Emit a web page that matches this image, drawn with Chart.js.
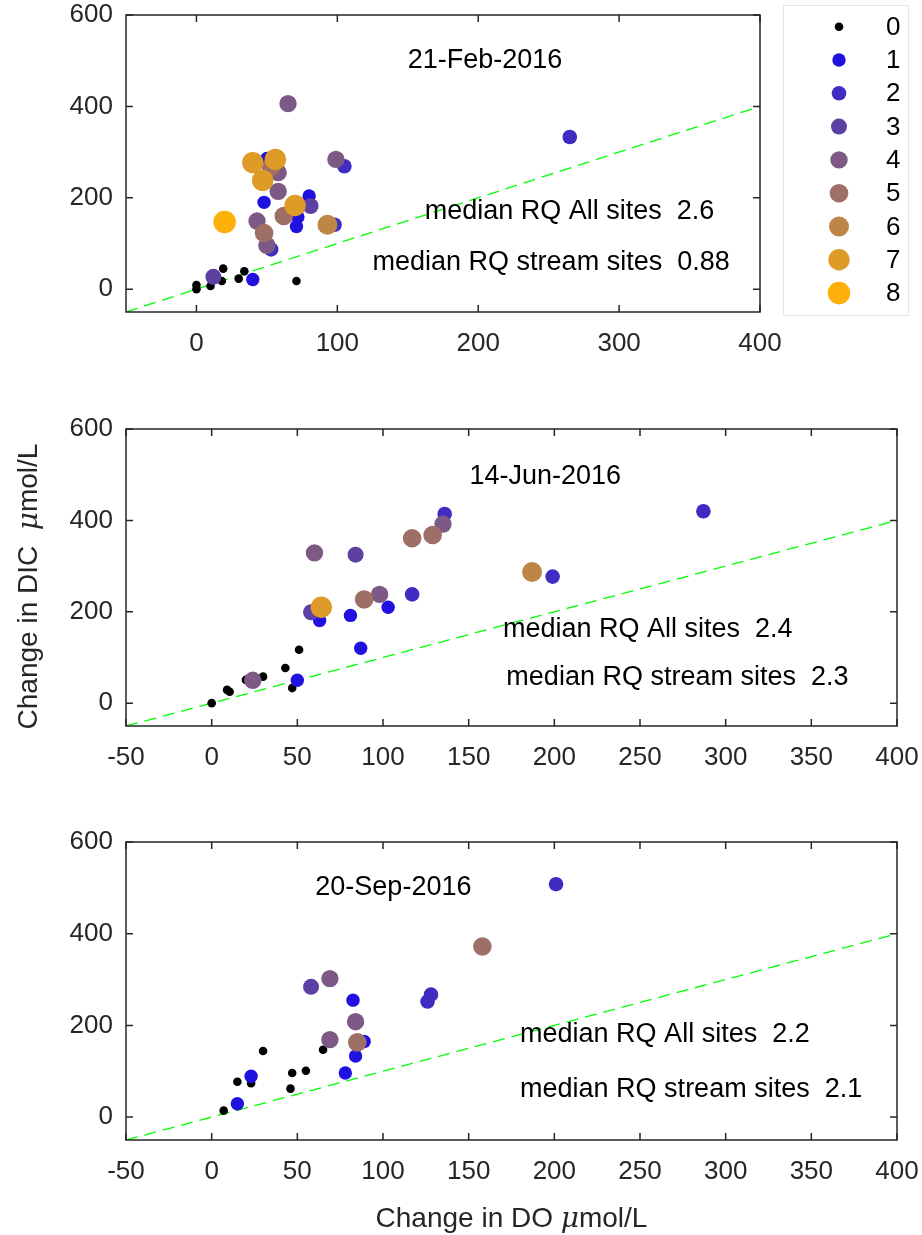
<!DOCTYPE html>
<html>
<head>
<meta charset="utf-8">
<script src="https://cdn.jsdelivr.net/npm/chart.js@4.4.1/dist/chart.umd.min.js"></script>
<style>
  body { margin: 0; background: #fff; }
  #wrap { position: relative; width: 922px; height: 1235px; }
  .panel { position: absolute; left: 0; width: 922px; }
</style>
</head>
<body>
<div id="wrap">
  <div class="panel" style="top:0;height:370px"><canvas id="feb"></canvas></div>
  <div class="panel" style="top:370px;height:410px"><canvas id="jun"></canvas></div>
  <div class="panel" style="top:780px;height:455px"><canvas id="sep"></canvas></div>
</div>
<script>
// site classes 0..8, colour ramps from black/blue to orange
const sites = [0, 1, 2, 3, 4, 5, 6, 7, 8];
const siteColors = ['#000000', '#2011e0', '#3f2cc2', '#5d40a3', '#7d5a85', '#9d6f66', '#bd8647', '#de9b28', '#fdb00a'];
const siteRadius = [4.3, 6.7, 7.3, 8, 8.7, 9.3, 10, 10.7, 11.3];

const dates = ['21-Feb-2016', '14-Jun-2016', '20-Sep-2016'];
const medianAll = [2.6, 2.4, 2.2];
const medianStream = [0.88, 2.3, 2.1];

// change in DO / DIC (umol/L) and site class, one entry per site
const febDO   = [0, 0, 10, 18, 19, 30, 34, 71,  40, 48, 50, 80, 72, 71,  265, 105, 98, 53,  12, 81,  65, 99, 58, 58, 43, 50,  53, 62, 48,  93,  40, 56, 47, 70,  20];
const febDIC  = [0, 9, 7, 18, 45, 23, 39, 18,  21, 190, 286, 204, 158, 137,  333, 269, 141, 87,  27, 182,  406, 284, 255, 214, 149, 96,  267, 160, 123,  141,  277, 284, 238, 183,  147];
const febSite = [0, 0, 0, 0, 0, 0, 0, 0,  1, 1, 1, 1, 1, 1,  2, 2, 2, 2,  3, 3,  4, 4, 4, 4, 4, 4,  5, 5, 5,  6,  7, 7, 7, 7,  8];

const junDO   = [0, 9, 10.5, 20, 30, 43, 47, 51,  50, 87, 63, 81, 103,  136, 117, 287, 199,  58, 84,  60, 135, 98, 24,  117, 129, 89,  187,  64];
const junDIC  = [0, 29, 25, 51, 58, 77, 33, 117,  50, 120, 181, 192, 210,  414, 238, 420, 277,  199, 325,  329, 392, 238, 50,  361, 368, 227,  287,  210];
const junSite = [0, 0, 0, 0, 0, 0, 0, 0,  1, 1, 1, 1, 1,  2, 2, 2, 2,  3, 3,  4, 4, 4, 4,  5, 5, 5,  6,  7];

const sepDO   = [7, 15, 23, 30, 47, 46, 55, 65,  15, 23, 78, 84, 82.5, 89,  126, 128, 201,  58,  69, 84, 69,  85, 158];
const sepDIC  = [14, 77, 74, 144, 96, 62, 101, 147,  29, 89, 96, 133, 255, 165,  252, 267, 508,  284,  302, 208, 169,  163, 372];
const sepSite = [0, 0, 0, 0, 0, 0, 0, 0,  1, 1, 1, 1, 1, 1,  2, 2, 2,  3,  4, 4, 4,  5, 5];

const xTicksFeb = [0, 100, 200, 300, 400];
const xTicks = [-50, 0, 50, 100, 150, 200, 250, 300, 350, 400];
const yTicks = [0, 200, 400, 600];
const oneToOne = [-50, 400];

const FONT = "'Liberation Sans', Arial, Helvetica, sans-serif";
const AXIS = '#262626';
Chart.defaults.font.family = FONT;

function buildDatasets(xs, ys, cls) {
  const sets = [{
    type: 'line',
    data: oneToOne.map(v => ({ x: v, y: v })),
    borderColor: '#00ff00',
    borderWidth: 1.3,
    borderDash: [12, 7],
    pointRadius: 0,
    showLine: true,
    order: 20
  }];
  sites.forEach(k => {
    const pts = [];
    xs.forEach((x, i) => { if (cls[i] === k) pts.push({ x: x, y: ys[i] }); });
    sets.push({
      label: String(k),
      data: pts,
      backgroundColor: siteColors[k],
      pointBackgroundColor: siteColors[k],
      pointRadius: siteRadius[k],
      pointHoverRadius: siteRadius[k],
      pointBorderWidth: 0,
      borderWidth: 0,
      order: 10 - k
    });
  });
  return sets;
}

// axes box with inward ticks on all four sides
const framePlugin = {
  id: 'frame',
  afterDraw(chart) {
    const { ctx, chartArea: a, scales } = chart;
    ctx.save();
    ctx.strokeStyle = AXIS;
    ctx.lineWidth = 1.5;
    ctx.strokeRect(a.left, a.top, a.right - a.left, a.bottom - a.top);
    const tl = 7;
    ctx.beginPath();
    scales.x.ticks.forEach(t => {
      const p = scales.x.getPixelForValue(t.value);
      ctx.moveTo(p, a.bottom); ctx.lineTo(p, a.bottom - tl);
      ctx.moveTo(p, a.top); ctx.lineTo(p, a.top + tl);
    });
    scales.y.ticks.forEach(t => {
      const p = scales.y.getPixelForValue(t.value);
      ctx.moveTo(a.left, p); ctx.lineTo(a.left + tl, p);
      ctx.moveTo(a.right, p); ctx.lineTo(a.right - tl, p);
    });
    ctx.stroke();

    // in-axes text
    const o = chart.options.plugins.frame;
    ctx.fillStyle = '#000';
    ctx.font = '27px ' + FONT;
    ctx.textBaseline = 'middle';
    ctx.textAlign = 'left';
    (o.notes || []).forEach(n => {
      ctx.fillText(n.text, scales.x.getPixelForValue(n.x), scales.y.getPixelForValue(n.y));
    });

    // axis titles with an italic mu
    if (o.xTitle) drawTitle(ctx, o.xTitle, (a.left + a.right) / 2, o.xTitleY, false);
    if (o.yTitle) drawTitle(ctx, o.yTitle, o.yTitleX, (a.top + a.bottom) / 2 + 9, true);

    if (o.legend) drawLegend(ctx, o.legend);
    ctx.restore();
  }
};

function drawTitle(ctx, parts, cx, cy, vertical) {
  const fonts = parts.map(p => p.italic ? 'italic 28px "DejaVu Serif", serif' : '28px ' + FONT);
  let w = 0;
  const widths = parts.map((p, i) => { ctx.font = fonts[i]; const m = ctx.measureText(p.t).width; w += m; return m; });
  ctx.save();
  ctx.translate(cx, cy);
  if (vertical) ctx.rotate(-Math.PI / 2);
  ctx.fillStyle = AXIS;
  ctx.textBaseline = 'alphabetic';
  ctx.textAlign = 'left';
  let x = -w / 2;
  parts.forEach((p, i) => {
    ctx.font = fonts[i];
    ctx.fillText(p.t, x, 10);
    x += widths[i];
  });
  ctx.restore();
}

function drawLegend(ctx, L) {
  ctx.strokeStyle = '#e6e6e6';
  ctx.lineWidth = 1;
  ctx.strokeRect(L.left, L.top, L.width, L.height);
  ctx.font = '26px ' + FONT;
  ctx.textBaseline = 'middle';
  ctx.textAlign = 'left';
  sites.forEach(k => {
    const y = L.firstY + L.step * k;
    ctx.fillStyle = siteColors[k];
    ctx.beginPath();
    ctx.arc(L.markerX, y, siteRadius[k], 0, Math.PI * 2);
    ctx.fill();
    ctx.fillStyle = '#000';
    ctx.fillText(String(k), L.textX, y + 1);
  });
}

function makePanel(id, xs, ys, cls, cfg) {
  const tickFont = { family: FONT, size: 26 };
  new Chart(document.getElementById(id), {
    type: 'scatter',
    data: { datasets: buildDatasets(xs, ys, cls) },
    options: {
      responsive: true,
      maintainAspectRatio: false,
      animation: false,
      events: [],
      layout: { padding: cfg.padding },
      plugins: {
        legend: { display: false },
        tooltip: { enabled: false },
        frame: cfg.frame
      },
      scales: {
        x: {
          type: 'linear',
          min: -50, max: 400,
          afterBuildTicks: s => { s.ticks = cfg.xTicks.map(v => ({ value: v })); },
          afterFit: s => { s.height = cfg.xHeight; s.paddingLeft = 0; s.paddingRight = 0; },
          grid: { display: false, drawTicks: false },
          border: { display: false },
          ticks: { font: tickFont, color: AXIS, padding: 16, maxRotation: 0, autoSkip: false, callback: v => String(v) }
        },
        y: {
          type: 'linear',
          min: -50, max: 600,
          afterBuildTicks: s => { s.ticks = yTicks.map(v => ({ value: v })); },
          afterFit: s => { s.width = 126; s.paddingTop = 0; s.paddingBottom = 0; },
          grid: { display: false, drawTicks: false },
          border: { display: false },
          ticks: { font: tickFont, color: AXIS, padding: 13, autoSkip: false, callback: v => String(v) }
        }
      }
    },
    plugins: [framePlugin]
  });
}

makePanel('feb', febDO, febDIC, febSite, {
  padding: { top: 15, right: 162, bottom: 8, left: 0 },
  xTicks: xTicksFeb, xHeight: 50,
  frame: {
    notes: [
      { text: dates[0], x: 150, y: 500 },
      { text: 'median RQ All sites  ' + medianAll[0], x: 162, y: 170 },
      { text: 'median RQ stream sites  ' + medianStream[0], x: 125, y: 59 }
    ],
    legend: { left: 783.5, top: 5.5, width: 125, height: 310, markerX: 839, textX: 886, firstY: 26.7, step: 33.3 }
  }
});

makePanel('jun', junDO, junDIC, junSite, {
  padding: { top: 59, right: 25, bottom: 4, left: 0 },
  xTicks: xTicks, xHeight: 50,
  frame: {
    notes: [
      { text: dates[1], x: 150.5, y: 495 },
      { text: 'median RQ All sites  ' + medianAll[1], x: 170, y: 161 },
      { text: 'median RQ stream sites  ' + medianStream[1], x: 172, y: 56 }
    ],
    yTitle: [{ t: 'Change in DIC  ' }, { t: 'μ', italic: true }, { t: 'mol/L' }],
    yTitleX: 27
  }
});

makePanel('sep', sepDO, sepDIC, sepSite, {
  padding: { top: 62, right: 25, bottom: 0, left: 0 },
  xTicks: xTicks, xHeight: 95,
  frame: {
    notes: [
      { text: dates[2], x: 60.5, y: 500 },
      { text: 'median RQ All sites  ' + medianAll[2], x: 180, y: 181 },
      { text: 'median RQ stream sites  ' + medianStream[2], x: 180, y: 60 }
    ],
    xTitle: [{ t: 'Change in DO ' }, { t: 'μ', italic: true }, { t: 'mol/L' }],
    xTitleY: 437
  }
});
</script>
</body>
</html>
